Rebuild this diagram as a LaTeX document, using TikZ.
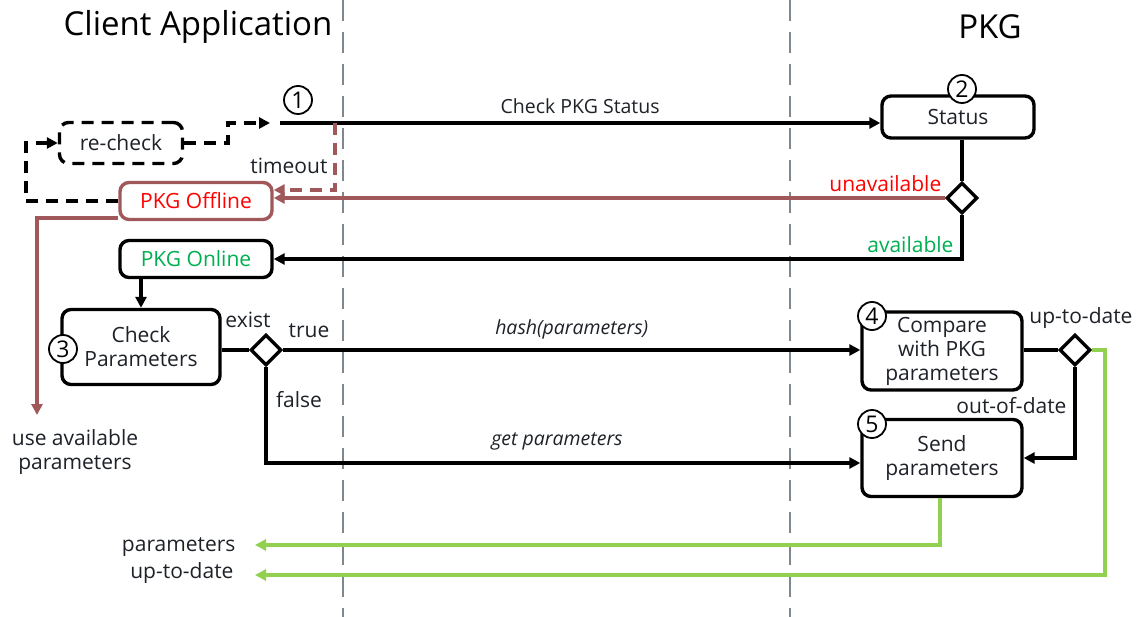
\documentclass[tikz,border=0pt]{standalone}
\usepackage{fontspec}
\setmainfont{Open Sans}
\usetikzlibrary{arrows.meta,shapes.geometric,calc}
\definecolor{maroon}{HTML}{A0585A}
\definecolor{lgreen}{HTML}{92D050}
\definecolor{okgreen}{HTML}{00B050}
\definecolor{lanegray}{HTML}{7F878F}
\definecolor{txt}{HTML}{1E2228}
\tikzset{
  base/.style={font=\fontsize{21}{24}\selectfont, text=txt},
  small/.style={font=\fontsize{19.5}{22}\selectfont},
  procbox/.style={base, draw=black, line width=3.4pt, rounded corners=9pt, fill=white, align=center, inner sep=0pt},
  numcirc/.style={circle, draw=black, line width=1.8pt, fill=white, minimum size=28pt, inner sep=0pt, font=\fontsize{23}{23}\selectfont},
  decision/.style={diamond, draw=black, line width=3.4pt, fill=white, minimum size=31pt, inner sep=0pt},
  flow/.style={line width=3.4pt, -{Triangle[length=11pt,width=11pt]}},
  plain/.style={line width=3.4pt},
  dashflow/.style={flow, dash pattern=on 12pt off 8pt},
  lbl/.style={base},
  lane/.style={draw=lanegray, line width=2.4pt, dash pattern=on 21pt off 11pt},
  title/.style={font=\fontsize{33}{36}\selectfont, text=black},
}
\begin{document}
\begin{tikzpicture}[x=1pt,y=-1pt]
\useasboundingbox (0,0) rectangle (1139,617);

% swim-lane separators
\draw[lane] (343,0) -- (343,617);
\draw[lane] (790,0) -- (790,617);
\node[title] (tclient) at (198,27) {Client Application};
\node[title] (tpkg) at (990,27) {PKG};

% PKG status check
\node[procbox, minimum width=152pt, minimum height=42pt] (status) at (958,117) {Status};
\node[numcirc] (n2) at (962,89) {2};
\node[decision] (d1) at (962,198) {};

\node[procbox, draw=maroon, minimum width=152pt, minimum height=37pt, text=red] (offline) at (196,201) {PKG Offline};
\node[procbox, minimum width=152pt, minimum height=37pt, text=okgreen] (online) at (196,259) {PKG Online};
\node[procbox, dash pattern=on 12pt off 8pt, minimum width=123pt, minimum height=41pt] (recheck) at (121,143) {re-check};
\node[numcirc] (n1) at (298,100) {1};
\coordinate (start) at (280,123);

% parameter handling
\node[procbox, minimum width=158pt, minimum height=75pt] (check) at (141,347) {Check\\Parameters};
\node[numcirc] (n3) at (63,349) {3};
\node[decision] (d2) at (266,350) {};

\node[procbox, minimum width=160pt, minimum height=78pt] (compare) at (942,351) {Compare\\with PKG\\parameters};
\node[numcirc] (n4) at (872,316) {4};
\node[decision] (d3) at (1075,350) {};

\node[procbox, minimum width=160pt, minimum height=77pt] (send) at (942,458) {Send\\parameters};
\node[numcirc] (n5) at (872,424) {5};

% results on the client side
\node[lbl, anchor=east] (rparam) at (239,547) {parameters};
\node[lbl, anchor=east] (rupd) at (237,573) {up-to-date};
\node[lbl, align=center] (useavail) at (75,452) {use available\\parameters};
\coordinate (rparamtip) at (255,545);
\coordinate (rupdtip) at (255,575);

% status request
\draw[flow] (start) -- node[lbl, small, above=4pt] {Check PKG Status} (status.west |- start);
\draw[plain] (status.south -| d1) -- (d1.north);
\draw[flow, maroon] (d1.west) -- (offline.east |- d1.west);
\node[lbl, text=red, anchor=south east] at ($(d1.west)+(0,-3)$) {unavailable};
\draw[flow] (d1.south) |- (online.east);
\node[lbl, text=okgreen, anchor=south east] at (957,256) {available};

% timeout and re-check loop
\draw[dashflow, maroon] (335,123) -- (335,190) -- (offline.east |- 0,190);
\node[lbl, anchor=east] at (331,166) {timeout};
\draw[dashflow] (offline.west |- 0,201) -- (26,201) -- (26,143) -- (recheck.west);
\draw[dashflow] (recheck.east) -- (228,143) -- (228,123) -- (270,123);
\draw[flow, maroon] (offline.west |- 0,218) -- (37,218) -- (37,415);

% parameter check
\draw[flow] (online.south -| check.north) -- (check.north);
\draw[plain] (check.east |- d2) -- (d2.west);
\node[lbl, anchor=south] at (248,331) {exist};
\draw[flow] (d2.east) -- node[lbl, small, above=6pt, font=\itshape\fontsize{19.5}{22}\selectfont] {hash(parameters)} (compare.west |- d2.east);
\node[lbl] at (309,331) {true};
\draw[flow] (d2.south) |- (send.west |- 0,463);
\node[lbl] at (299,400) {false};
\node[lbl, font=\itshape\fontsize{19.5}{22}\selectfont] at (557,441) {get parameters};

% comparison on the PKG side
\draw[plain] (compare.east |- d3) -- (d3.west);
\node[lbl, anchor=east] at (1136,318) {up-to-date};
\draw[flow] (d3.south) |- (send.east |- 0,458);
\node[lbl, anchor=east] at (1070,406) {out-of-date};

% answers back to the client
\draw[flow, lgreen] (send.south -| 940,0) -- (940,545) -- (rparamtip);
\draw[flow, lgreen] (d3.east) -- (1105,350) -- (1105,575) -- (rupdtip);

\end{tikzpicture}
\end{document}
